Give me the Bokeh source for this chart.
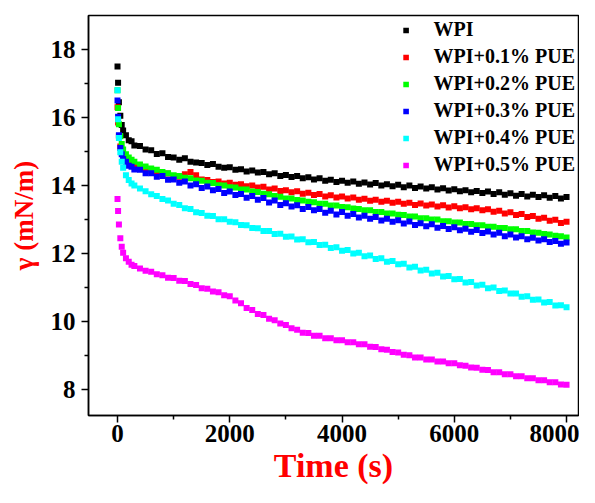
from bokeh.plotting import figure
from bokeh.models import Range1d, FixedTicker, Legend, LegendItem
from bokeh.embed import file_html
from bokeh.resources import INLINE

# ---------------- data ----------------
time_s = [0, 10, 25, 50, 75, 100, 150, 200, 250, 300,
          400, 500, 600, 700, 800, 900, 1000, 1100, 1200, 1300, 1400, 1500,
          1600, 1700, 1800, 1900, 2000, 2100, 2200, 2300, 2400, 2500, 2600,
          2700, 2800, 2900, 3000, 3100, 3200, 3300, 3400, 3500, 3600, 3700,
          3800, 3900, 4000, 4100, 4200, 4300, 4400, 4500, 4600, 4700, 4800,
          4900, 5000, 5100, 5200, 5300, 5400, 5500, 5600, 5700, 5800, 5900,
          6000, 6100, 6200, 6300, 6400, 6500, 6600, 6700, 6800, 6900, 7000,
          7100, 7200, 7300, 7400, 7500, 7600, 7700, 7800, 7900, 8000]

wpi = [17.50, 17.02, 16.45, 16.05, 15.78, 15.62, 15.48, 15.33, 15.30, 15.18,
       15.16, 15.06, 15.04, 14.93, 14.95, 14.84, 14.82, 14.76, 14.80, 14.70, 14.68, 14.66,
       14.60, 14.63, 14.55, 14.52, 14.54, 14.46, 14.48, 14.41, 14.44, 14.38, 14.40,
       14.33, 14.36, 14.28, 14.31, 14.25, 14.28, 14.21, 14.24, 14.18, 14.21, 14.14,
       14.17, 14.10, 14.14, 14.08, 14.12, 14.05, 14.09, 14.03, 14.07, 14.00, 14.04,
       13.98, 14.02, 13.95, 14.00, 13.93, 13.97, 13.91, 13.95, 13.88, 13.92, 13.85,
       13.89, 13.83, 13.86, 13.80, 13.84, 13.78, 13.82, 13.75, 13.80, 13.73, 13.77,
       13.70, 13.75, 13.68, 13.73, 13.66, 13.71, 13.64, 13.69, 13.62, 13.66]

pue_01 = [16.30, 15.85, 15.45, 15.15, 14.98, 14.88, 14.75, 14.68, 14.62, 14.58,
          14.52, 14.49, 14.42, 14.40, 14.34, 14.35, 14.28, 14.26, 14.33, 14.40, 14.30, 14.18,
          14.16, 14.10, 14.12, 14.06, 14.08, 14.02, 14.04, 13.98, 14.00, 13.94, 13.96,
          13.88, 13.91, 13.84, 13.86, 13.80, 13.83, 13.76, 13.79, 13.72, 13.75, 13.68,
          13.71, 13.65, 13.68, 13.62, 13.65, 13.58, 13.61, 13.55, 13.58, 13.52, 13.55,
          13.49, 13.52, 13.46, 13.49, 13.43, 13.47, 13.41, 13.44, 13.38, 13.42, 13.35,
          13.39, 13.33, 13.36, 13.30, 13.33, 13.27, 13.30, 13.23, 13.26, 13.18, 13.21,
          13.13, 13.16, 13.07, 13.10, 13.02, 13.05, 12.96, 12.99, 12.90, 12.93]

pue_02 = [16.80, 16.28, 15.80, 15.45, 15.22, 15.06, 14.92, 14.82, 14.76, 14.70,
          14.62, 14.56, 14.50, 14.46, 14.40, 14.36, 14.30, 14.28, 14.23, 14.21, 14.15, 14.14,
          14.08, 14.07, 14.01, 14.00, 13.95, 13.94, 13.88, 13.88, 13.82, 13.81, 13.76,
          13.74, 13.69, 13.67, 13.62, 13.62, 13.57, 13.56, 13.52, 13.51, 13.46, 13.46,
          13.41, 13.41, 13.37, 13.36, 13.32, 13.31, 13.27, 13.27, 13.22, 13.22, 13.18,
          13.18, 13.14, 13.13, 13.09, 13.09, 13.04, 13.04, 13.00, 13.00, 12.95, 12.95,
          12.91, 12.91, 12.87, 12.87, 12.83, 12.83, 12.79, 12.79, 12.75, 12.75, 12.71,
          12.71, 12.66, 12.66, 12.62, 12.61, 12.57, 12.56, 12.52, 12.51, 12.47]

pue_03 = [16.50, 16.02, 15.48, 15.10, 14.92, 14.78, 14.70, 14.58, 14.55, 14.47,
          14.46, 14.36, 14.36, 14.26, 14.28, 14.17, 14.18, 14.08, 14.12, 14.00, 14.04, 13.93,
          13.97, 13.86, 13.90, 13.78, 13.82, 13.72, 13.75, 13.64, 13.69, 13.58, 13.63,
          13.50, 13.56, 13.43, 13.48, 13.38, 13.42, 13.31, 13.37, 13.27, 13.31, 13.20,
          13.26, 13.15, 13.22, 13.11, 13.16, 13.06, 13.11, 13.02, 13.07, 12.97, 13.02,
          12.93, 12.98, 12.88, 12.94, 12.84, 12.89, 12.80, 12.86, 12.76, 12.81, 12.72,
          12.77, 12.68, 12.73, 12.64, 12.69, 12.60, 12.65, 12.56, 12.61, 12.51, 12.56,
          12.47, 12.51, 12.42, 12.46, 12.38, 12.42, 12.34, 12.37, 12.29, 12.32]

pue_04 = [16.80, 15.95, 15.40, 14.98, 14.70, 14.52, 14.30, 14.16, 14.06, 14.00,
          13.91, 13.83, 13.74, 13.69, 13.60, 13.56, 13.46, 13.43, 13.33, 13.31, 13.21, 13.19,
          13.11, 13.10, 13.01, 13.01, 12.93, 12.92, 12.84, 12.83, 12.75, 12.74, 12.66,
          12.66, 12.57, 12.58, 12.49, 12.50, 12.41, 12.42, 12.33, 12.34, 12.25, 12.26,
          12.16, 12.18, 12.08, 12.10, 12.00, 12.02, 11.92, 11.94, 11.84, 11.86, 11.76,
          11.78, 11.68, 11.70, 11.59, 11.61, 11.50, 11.52, 11.41, 11.43, 11.32, 11.34,
          11.24, 11.25, 11.15, 11.16, 11.06, 11.08, 10.98, 11.00, 10.90, 10.91, 10.82,
          10.82, 10.73, 10.74, 10.64, 10.65, 10.56, 10.57, 10.47, 10.48, 10.42]

pue_05 = [13.60, 13.25, 12.85, 12.45, 12.20, 12.02, 11.86, 11.76, 11.67, 11.63,
          11.56, 11.49, 11.46, 11.39, 11.36, 11.29, 11.28, 11.20, 11.19, 11.10, 11.07, 10.98,
          10.96, 10.88, 10.86, 10.77, 10.74, 10.62, 10.54, 10.40, 10.34, 10.22, 10.19,
          10.08, 10.04, 9.94, 9.90, 9.80, 9.76, 9.67, 9.66, 9.58, 9.58, 9.51,
          9.51, 9.45, 9.45, 9.39, 9.39, 9.33, 9.33, 9.26, 9.25, 9.18, 9.17,
          9.10, 9.09, 9.02, 9.01, 8.94, 8.94, 8.88, 8.88, 8.82, 8.82, 8.77,
          8.77, 8.71, 8.70, 8.65, 8.64, 8.58, 8.57, 8.51, 8.51, 8.45, 8.45,
          8.39, 8.39, 8.33, 8.33, 8.27, 8.27, 8.21, 8.21, 8.15, 8.14]

series_names = ["WPI", "WPI+0.1% PUE", "WPI+0.2% PUE", "WPI+0.3% PUE",
                "WPI+0.4% PUE", "WPI+0.5% PUE"]
series_values = [wpi, pue_01, pue_02, pue_03, pue_04, pue_05]
series_colors = ["#000000", "#FF0000", "#00FF00", "#0000FF", "#00FFFF", "#FF00FF"]

x_ticks = [0, 2000, 4000, 6000, 8000]
x_minor = [1000, 3000, 5000, 7000]
y_ticks = [8, 10, 12, 14, 16, 18]
y_minor = [9, 11, 13, 15, 17]

# ---------------- figure ----------------
FONT = "Times New Roman, Liberation Serif, serif"
p = figure(width=579, height=487, output_backend="svg", toolbar_location=None,
           x_range=Range1d(-517, 8213), y_range=Range1d(7.235, 19),
           min_border_left=88, min_border_right=1, min_border_top=15,
           min_border_bottom=72)
p.background_fill_color = "white"
p.border_fill_color = "white"
p.grid.visible = False
p.outline_line_color = "black"
p.outline_line_width = 1.5

for ax in (p.xaxis[0], p.yaxis[0]):
    ax.axis_line_width = 1.5
    ax.major_tick_line_width = 1.5
    ax.minor_tick_line_width = 1.5
    ax.major_tick_in = 0
    ax.major_tick_out = 7
    ax.minor_tick_in = 0
    ax.minor_tick_out = 4
    ax.major_label_text_font = FONT
    ax.major_label_text_font_style = "bold"
    ax.major_label_text_font_size = "25px"
    ax.major_label_text_color = "black"
    ax.axis_label_text_font = FONT
    ax.axis_label_text_font_style = "bold"
    ax.axis_label_text_color = "#FF0000"

p.xaxis.ticker = FixedTicker(ticks=x_ticks, minor_ticks=x_minor)
p.yaxis.ticker = FixedTicker(ticks=y_ticks, minor_ticks=y_minor)
p.xaxis.axis_label = "Time (s)"
p.yaxis.axis_label = "γ (mN/m)"
p.xaxis.axis_label_text_font_size = "34px"
p.yaxis.axis_label_text_font_size = "27px"
p.xaxis.major_label_standoff = 2
p.yaxis.major_label_standoff = 6
p.xaxis.axis_label_standoff = 2
p.yaxis.axis_label_standoff = 9

items = []
for name, vals, col in zip(series_names, series_values, series_colors):
    r = p.scatter(time_s, vals, marker="square", size=6, fill_color=col,
                  line_color=col, line_width=0)
    items.append(LegendItem(label=name, renderers=[r]))

legend = Legend(items=items, location="top_right")
legend.label_text_font = FONT
legend.label_text_font_style = "bold"
legend.label_text_font_size = "20px"
legend.label_text_color = "black"
legend.background_fill_alpha = 0
legend.border_line_alpha = 0
legend.glyph_width = 14
legend.glyph_height = 20
legend.label_standoff = 21
legend.spacing = 4
legend.padding = 3
legend.margin = 0
p.add_layout(legend)

open("out.html", "w").write(file_html(p, INLINE))
